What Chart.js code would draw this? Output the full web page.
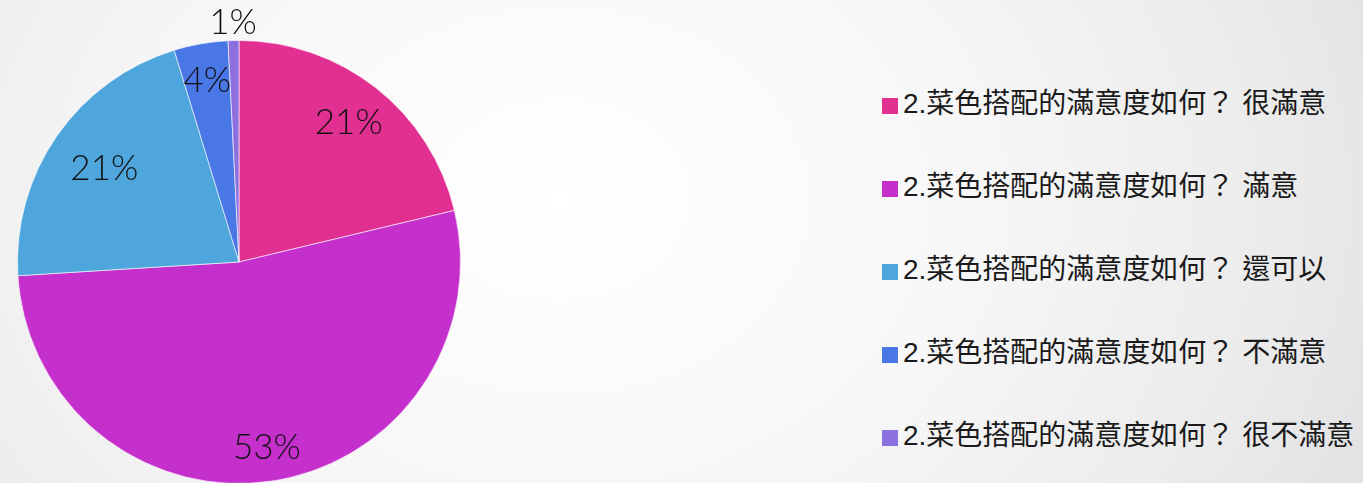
<!DOCTYPE html>
<html>
<head>
<meta charset="utf-8">
<script src="https://cdn.jsdelivr.net/npm/chart.js@4/dist/chart.umd.min.js"></script>
<style>
    html, body {
        margin: 0;
        padding: 0;
        width: 1363px;
        height: 483px;
        overflow: hidden;
    }
    body {
        position: relative;
        background: radial-gradient(ellipse 900px 700px at 560px 200px, #ffffff 0%, #f7f7f8 45%, #ebebec 80%, #e1e1e3 100%);
    }
    #pie-wrap {
        position: absolute;
        left: 0;
        top: 0;
        width: 478px;
        height: 524px;
    }
    #legend {
        position: absolute;
        left: 882px;
        top: 104px;
        margin: 0;
        padding: 0;
        list-style: none;
        font-family: 'Liberation Sans', 'Noto Sans CJK TC', sans-serif;
        font-size: 28px;
        color: #1a1a1a;
    }
    #legend li {
        position: absolute;
        left: 0;
        height: 30px;
        line-height: 30px;
        white-space: nowrap;
        transform: translateY(-50%);
    }
    #legend .box {
        display: inline-block;
        width: 16px;
        height: 16px;
        margin-right: 5px;
        vertical-align: -1px;
    }
</style>
</head>
<body>
<div id="pie-wrap"><canvas id="chart"></canvas></div>
<ul id="legend"></ul>
<script>
    /* Values */
    const categories = [
        '2.菜色搭配的滿意度如何？ 很滿意',
        '2.菜色搭配的滿意度如何？ 滿意',
        '2.菜色搭配的滿意度如何？ 還可以',
        '2.菜色搭配的滿意度如何？ 不滿意',
        '2.菜色搭配的滿意度如何？ 很不滿意',
    ];
    const counts = [27, 67, 27, 5, 1];

    const sliceColors = ['#e22f92', '#c52fcc', '#4fa6dc', '#4a77e6', '#8d70e0'];

    // how far out each percent label sits (share of radius)
    const labelDist = [0.8, 0.85, 0.74, 0.83, 1.08];

    const total = counts.reduce((a, b) => a + b, 0);

    // Draw rounded percentages on the slices
    const percentLabels = {
        id: 'percentLabels',
        afterDatasetsDraw(chart) {
            const ctx = chart.ctx;
            const meta = chart.getDatasetMeta(0);
            ctx.save();
            ctx.font = '300 35px Lato, "Open Sans", sans-serif';
            ctx.fillStyle = '#111111';
            ctx.textAlign = 'center';
            ctx.textBaseline = 'middle';
            meta.data.forEach((arc, i) => {
                const p = arc.getProps(['x', 'y', 'startAngle', 'endAngle', 'outerRadius'], true);
                const mid = (p.startAngle + p.endAngle) / 2;
                const r = p.outerRadius * labelDist[i];
                const pct = Math.round(counts[i] / total * 100) + '%';
                ctx.fillText(pct, p.x + Math.cos(mid) * r, p.y + Math.sin(mid) * r);
            });
            ctx.restore();
        },
    };

    const chart = new Chart(document.getElementById('chart'), {
        type: 'pie',
        data: {
            labels: categories,
            datasets: [{
                data: counts,
                backgroundColor: sliceColors,
                borderColor: 'rgba(255,255,255,0.6)',
                borderWidth: 1,
            }],
        },
        options: {
            responsive: true,
            maintainAspectRatio: false,
            animation: false,
            events: [],
            layout: {
                padding: { left: 17, right: 17, top: 40, bottom: 40 },
            },
            plugins: {
                legend: { display: false },
                tooltip: { enabled: false },
            },
        },
        plugins: [percentLabels],
    });

    // HTML legend built from the chart's own legend items
    const legendEl = document.getElementById('legend');
    chart.options.plugins.legend.labels.generateLabels(chart).forEach((item, i) => {
        const li = document.createElement('li');
        li.style.top = (i * 83) + 'px';
        const box = document.createElement('span');
        box.className = 'box';
        box.style.background = item.fillStyle;
        li.appendChild(box);
        li.appendChild(document.createTextNode(item.text));
        legendEl.appendChild(li);
    });
</script>
</body>
</html>
